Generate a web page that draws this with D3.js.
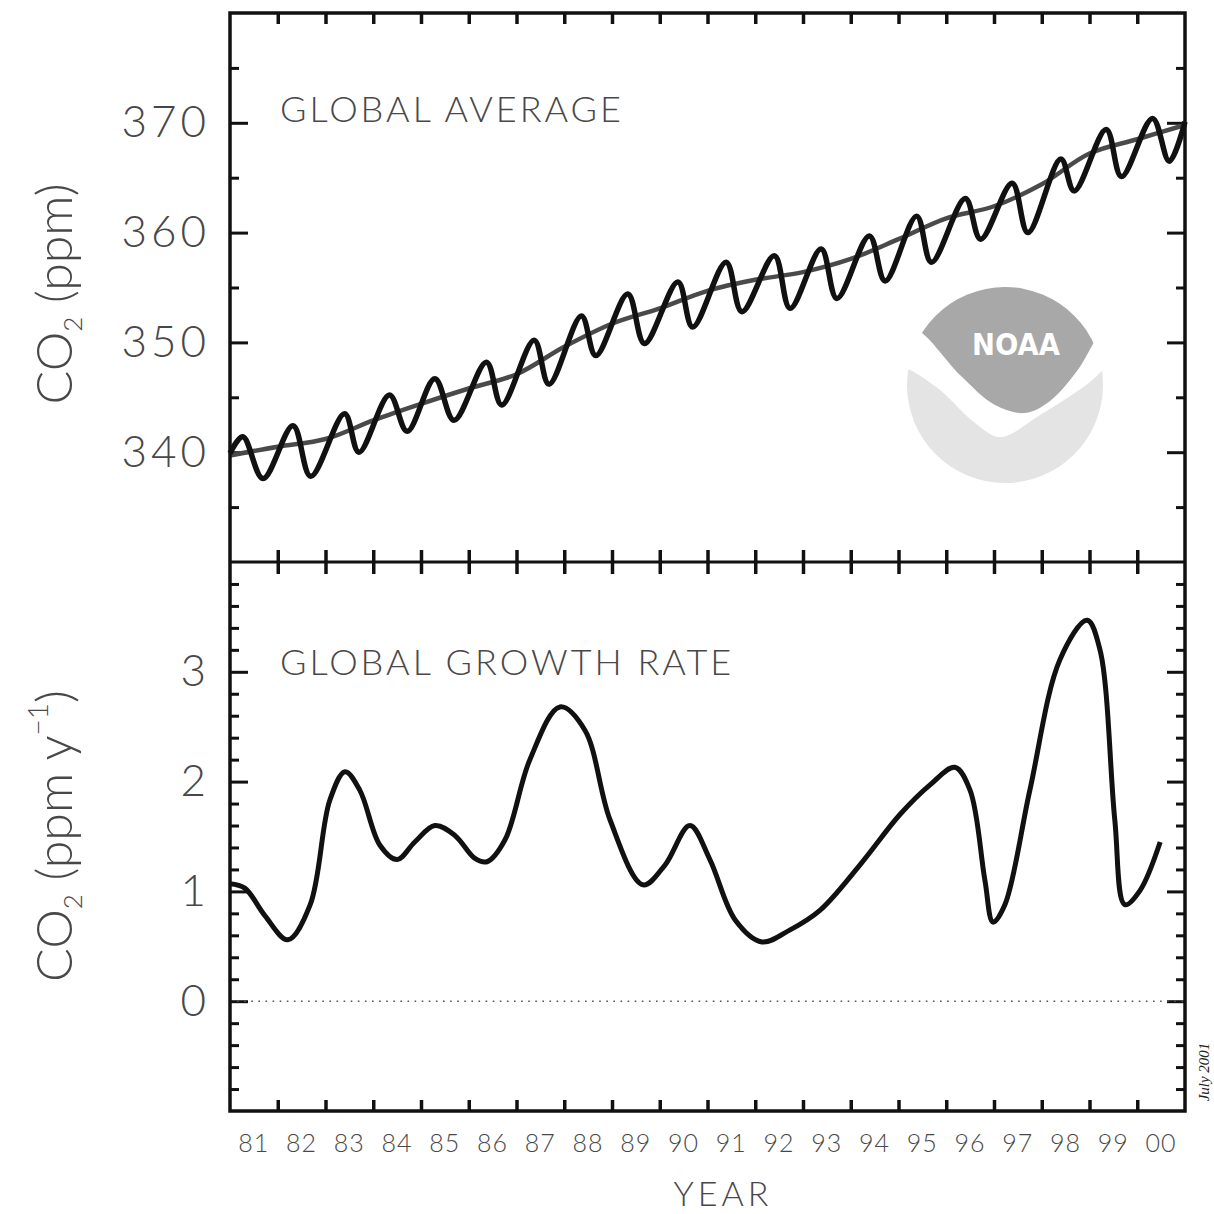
<!DOCTYPE html>
<html lang="en">
<head>
<meta charset="utf-8">
<title>Global CO2 average and growth rate</title>
<style>
  body { margin: 0; background: #fff; }
  svg { display: block; background: #fff; }
  text { font-family: 'Lato', 'DejaVu Sans', sans-serif; font-weight: 300; fill: #484848; }
  .tick line { stroke: #111; }
  .domain { display: none; }
  .xtick line { stroke-width: 3.5; }
  .ytick line { stroke-width: 3; }
</style>
</head>
<body>
<div id="viz"></div>
<script src="https://d3js.org/d3.v7.min.js"></script>
<script>
// ---- data ----
// seasonal global average (peaks and troughs), decimal year / ppm
const cycleTime = [1981.00, 1981.27, 1981.69, 1982.32, 1982.69, 1983.40, 1983.70, 1984.34, 1984.71,
  1985.29, 1985.69, 1986.37, 1986.69, 1987.37, 1987.68, 1988.36, 1988.66, 1989.33, 1989.68,
  1990.38, 1990.69, 1991.39, 1991.72, 1992.40, 1992.73, 1993.38, 1993.71, 1994.39, 1994.72,
  1995.38, 1995.69, 1996.40, 1996.72, 1997.38, 1997.71, 1998.40, 1998.68, 1999.35, 1999.67,
  2000.32, 2000.67, 2001.00];
const cycleCO2 = [339.9, 341.4, 337.6, 342.4, 337.8, 343.5, 340.0, 345.2, 341.9,
  346.7, 342.9, 348.2, 344.3, 350.2, 346.2, 352.4, 348.8, 354.4, 349.9,
  355.5, 351.4, 357.3, 352.8, 357.9, 353.1, 358.5, 354.0, 359.7, 355.6,
  361.5, 357.3, 363.1, 359.4, 364.5, 360.0, 366.7, 363.8, 369.4, 365.1,
  370.4, 366.5, 370.1];

// deseasonalised trend at the start of each year
const trendTime = [1981, 1982, 1983, 1984, 1985, 1986, 1987, 1988, 1989, 1990, 1991,
  1992, 1993, 1994, 1995, 1996, 1997, 1998, 1999, 2000, 2001];
const trendCO2 = [339.7, 340.5, 341.2, 342.9, 344.4, 345.8, 347.1, 349.6, 351.7, 353.1, 354.7,
  355.7, 356.4, 357.6, 359.4, 361.3, 362.4, 364.4, 367.2, 368.5, 369.8];

// growth rate, ppm per year
const rateTime = [1981.00, 1981.31, 1981.73, 1982.21, 1982.68, 1983.09, 1983.41, 1983.72, 1984.14,
  1984.50, 1984.87, 1985.29, 1985.71, 1986.13, 1986.38, 1986.76, 1987.28, 1987.91, 1988.43,
  1988.96, 1989.65, 1990.11, 1990.63, 1991.05, 1991.58, 1992.14, 1992.73, 1993.36, 1994.19,
  1995.03, 1995.66, 1996.18, 1996.50, 1996.81, 1996.98, 1997.23, 1997.75, 1998.38, 1998.95,
  1999.22, 1999.53, 1999.74, 2000.06, 2000.48];
const rateValue = [1.07, 1.03, 0.78, 0.56, 0.88, 1.83, 2.09, 1.92, 1.42,
  1.29, 1.45, 1.60, 1.51, 1.30, 1.27, 1.47, 2.20, 2.68, 2.47,
  1.65, 1.06, 1.24, 1.60, 1.29, 0.74, 0.54, 0.65, 0.83, 1.24,
  1.70, 1.97, 2.13, 1.92, 1.10, 0.72, 0.88, 1.92, 3.11, 3.47,
  3.20, 1.65, 0.88, 1.01, 1.45];

const yearLabels = ["81","82","83","84","85","86","87","88","89","90",
  "91","92","93","94","95","96","97","98","99","00"];
const co2Major = [340, 350, 360, 370];
const co2Minor = [335, 345, 355, 365, 375];
const rateMajor = [0, 1, 2, 3];
const rateMinor = [-0.8, -0.6, -0.4, -0.2, 0.2, 0.4, 0.6, 0.8, 1.2, 1.4, 1.6, 1.8,
  2.2, 2.4, 2.6, 2.8, 3.2, 3.4, 3.6, 3.8];
const rateMajorLabels = ["0", "1", "2", "3"];

// ---- layout ----
const W = 1214, H = 1214;
const frame = { left: 230, right: 1185, top: 13, mid: 562, bottom: 1111 };

const svg = d3.select("#viz").append("svg").attr("width", W).attr("height", H);

const x = d3.scaleLinear().domain([1981, 2001]).range([frame.left, frame.right]);
const yTop = d3.scaleLinear().domain([330, 380]).range([frame.mid, frame.top]);
const yBot = d3.scaleLinear().domain([-1, 4]).range([frame.bottom, frame.mid]);
const yearBounds = x.ticks(20).filter(d => d > 1981 && d < 2001);

// ---- NOAA logo (background decoration) ----
const logo = { cx: 1005, cy: 385, r: 98 };
svg.append("clipPath").attr("id", "logoClip")
  .append("circle").attr("cx", 0).attr("cy", 0).attr("r", logo.r);
const lg = svg.append("g")
  .attr("transform", `translate(${logo.cx},${logo.cy})`)
  .append("g").attr("clip-path", "url(#logoClip)");
const smooth = d3.line().curve(d3.curveCatmullRom);
const darkEdge = [[-115, -58], [-88, -55], [-45, -10], [-10, 20], [20, 28], [45, 16], [72, -14], [100, -57], [115, -60]];
const lightEdge = [[-115, -22], [-95, -15], [-65, 5], [-30, 38], [-5, 52], [35, 30], [85, -3], [105, -22], [115, -30]];
lg.append("path")
  .attr("d", smooth(darkEdge) + "L115,-120L-115,-120Z")
  .attr("fill", "#a8a8a8");
lg.append("path")
  .attr("d", smooth(lightEdge) + "L115,120L-115,120Z")
  .attr("fill", "#e4e4e4");
lg.append("text")
  .attr("x", 11).attr("y", -30)
  .attr("text-anchor", "middle")
  .attr("textLength", 88)
  .attr("lengthAdjust", "spacingAndGlyphs")
  .style("font-family", "'DejaVu Sans'")
  .style("font-weight", "bold")
  .style("font-size", "31px")
  .style("fill", "#fff")
  .text("NOAA");

// ---- axes ----
function styleLabels(g, size) {
  g.selectAll("text").style("font-size", size + "px").style("letter-spacing", "4px");
}

// year ticks on top, middle and bottom borders
svg.append("g").attr("class", "xtick")
  .attr("transform", `translate(0,${frame.top})`)
  .call(d3.axisTop(x).tickValues(yearBounds).tickSize(-11).tickFormat(""));
svg.append("g").attr("class", "xtick")
  .attr("transform", `translate(0,${frame.mid})`)
  .call(d3.axisTop(x).tickValues(yearBounds).tickSize(12).tickFormat(""));
svg.append("g").attr("class", "xtick")
  .attr("transform", `translate(0,${frame.mid})`)
  .call(d3.axisBottom(x).tickValues(yearBounds).tickSize(12).tickFormat(""));
svg.append("g").attr("class", "xtick")
  .attr("transform", `translate(0,${frame.bottom})`)
  .call(d3.axisBottom(x).tickValues(yearBounds).tickSize(-11).tickFormat(""));

// year labels centred in each year
svg.append("g").selectAll("text")
  .data(yearLabels)
  .join("text")
  .attr("x", (d, i) => x(1981.5 + i))
  .attr("y", 1152)
  .attr("text-anchor", "middle")
  .style("font-size", "25px")
  .style("letter-spacing", "1px")
  .text(d => d);

// top panel y axes
svg.append("g").attr("class", "ytick")
  .attr("transform", `translate(${frame.left},0)`)
  .call(d3.axisLeft(yTop).tickValues(co2Major).tickSize(-18).tickPadding(20))
  .call(g => styleLabels(g, 44));
svg.append("g").attr("class", "ytick")
  .attr("transform", `translate(${frame.left},0)`)
  .call(d3.axisLeft(yTop).tickValues(co2Minor).tickSize(-9).tickFormat(""));
svg.append("g").attr("class", "ytick")
  .attr("transform", `translate(${frame.right},0)`)
  .call(d3.axisRight(yTop).tickValues(co2Major).tickSize(-18).tickFormat(""));
svg.append("g").attr("class", "ytick")
  .attr("transform", `translate(${frame.right},0)`)
  .call(d3.axisRight(yTop).tickValues(co2Minor).tickSize(-9).tickFormat(""));

// bottom panel y axes
svg.append("g").attr("class", "ytick")
  .attr("transform", `translate(${frame.left},0)`)
  .call(d3.axisLeft(yBot).tickValues(rateMajor).tickSize(-18).tickPadding(20)
    .tickFormat((d, i) => rateMajorLabels[i]))
  .call(g => styleLabels(g, 44));
svg.append("g").attr("class", "ytick")
  .attr("transform", `translate(${frame.left},0)`)
  .call(d3.axisLeft(yBot).tickValues(rateMinor).tickSize(-9).tickFormat(""));
svg.append("g").attr("class", "ytick")
  .attr("transform", `translate(${frame.right},0)`)
  .call(d3.axisRight(yBot).tickValues(rateMajor).tickSize(-18).tickFormat(""));
svg.append("g").attr("class", "ytick")
  .attr("transform", `translate(${frame.right},0)`)
  .call(d3.axisRight(yBot).tickValues(rateMinor).tickSize(-9).tickFormat(""));

// zero line
svg.append("line")
  .attr("x1", frame.left).attr("x2", frame.right)
  .attr("y1", yBot(0)).attr("y2", yBot(0))
  .attr("stroke", "#555").attr("stroke-width", 1.6)
  .attr("stroke-dasharray", "1.6,5.5");

// ---- lines ----
const topLine = d3.line().x(d => x(d[0])).y(d => yTop(d[1])).curve(d3.curveCatmullRom.alpha(0.5));
const botLine = d3.line().x(d => x(d[0])).y(d => yBot(d[1])).curve(d3.curveCatmullRom.alpha(0.5));

svg.append("path")
  .datum(trendTime.map((t, i) => [t, trendCO2[i]]))
  .attr("d", topLine)
  .attr("fill", "none").attr("stroke", "#4a4a4a").attr("stroke-width", 4.5);

svg.append("path")
  .datum(cycleTime.map((t, i) => [t, cycleCO2[i]]))
  .attr("d", topLine)
  .attr("fill", "none").attr("stroke", "#111").attr("stroke-width", 5.5)
  .attr("stroke-linejoin", "round");

svg.append("path")
  .datum(rateTime.map((t, i) => [t, rateValue[i]]))
  .attr("d", botLine)
  .attr("fill", "none").attr("stroke", "#111").attr("stroke-width", 5)
  .attr("stroke-linejoin", "round");

// ---- frame ----
svg.append("rect")
  .attr("x", frame.left).attr("y", frame.top)
  .attr("width", frame.right - frame.left).attr("height", frame.bottom - frame.top)
  .attr("fill", "none").attr("stroke", "#111").attr("stroke-width", 3.5);
svg.append("line")
  .attr("x1", frame.left).attr("x2", frame.right)
  .attr("y1", frame.mid).attr("y2", frame.mid)
  .attr("stroke", "#111").attr("stroke-width", 3);

// ---- text ----
svg.append("text").attr("x", 280).attr("y", 122)
  .style("font-size", "36px").style("letter-spacing", "3px")
  .text("GLOBAL AVERAGE");
svg.append("text").attr("x", 280).attr("y", 675)
  .style("font-size", "36px").style("letter-spacing", "3px")
  .text("GLOBAL GROWTH RATE");

svg.append("text").attr("x", 723).attr("y", 1206)
  .attr("text-anchor", "middle")
  .style("font-size", "34px").style("letter-spacing", "4px")
  .text("YEAR");

const t1 = svg.append("text")
  .attr("transform", "translate(72,294) rotate(-90)")
  .attr("text-anchor", "middle")
  .style("font-size", "50px");
t1.append("tspan").text("CO");
t1.append("tspan").attr("dy", 10).style("font-size", "26px").text("2");
t1.append("tspan").attr("dy", -10).text(" (ppm)");

const t2 = svg.append("text")
  .attr("transform", "translate(72,836) rotate(-90)")
  .attr("text-anchor", "middle")
  .style("font-size", "50px");
t2.append("tspan").text("CO");
t2.append("tspan").attr("dy", 10).style("font-size", "26px").text("2");
t2.append("tspan").attr("dy", -10).text(" (ppm y");
t2.append("tspan").attr("dy", -24).style("font-size", "28px").text("\u22121");
t2.append("tspan").attr("dy", 24).text(")");

svg.append("text")
  .attr("transform", "translate(1209,1072) rotate(-90)")
  .attr("text-anchor", "middle")
  .style("font-family", "'Liberation Serif', serif")
  .style("font-style", "italic")
  .style("font-weight", "normal")
  .style("font-size", "15px")
  .style("fill", "#222")
  .text("July 2001");
</script>
</body>
</html>
